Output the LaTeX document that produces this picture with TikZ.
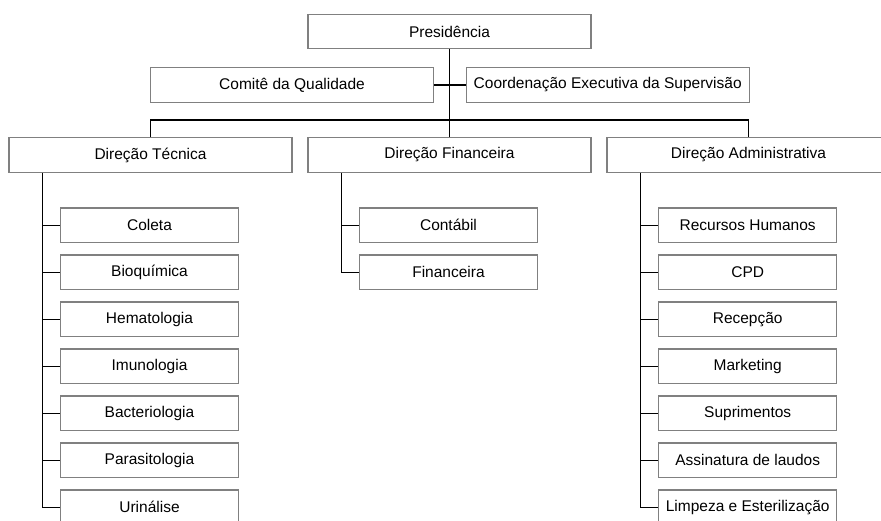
\documentclass[tikz,border=0pt]{standalone}
\usepackage{fontspec}
\setmainfont{Liberation Sans}
\begin{document}
\begin{tikzpicture}[x=1pt,y=-1pt,
  unit/.style={draw=black!50,line width=1.1pt,fill=white,rectangle,inner sep=0pt,
    minimum height=34.6pt,font=\fontsize{15.5}{18}\selectfont},
  bigunit/.style={unit,minimum width=283pt},
  subunit/.style={unit,minimum width=178pt},
  link/.style={draw=black,line width=1.3pt}]
\useasboundingbox (0,0) rectangle (881,521);
\clip (0,0) rectangle (881,521);

% top levels
\node[bigunit] (pres)   at (449.5,31.5) {Presidência};
\node[bigunit] (comite) at (292,85)     {Comitê da Qualidade};
\node[bigunit] (coord)  at (607.7,85)   {Coordenação Executiva da Supervisão};
\node[bigunit] (dt) at (150.5,155) {Direção Técnica};
\node[bigunit] (df) at (449.5,155) {Direção Financeira};
\node[bigunit] (da) at (748.5,155) {Direção Administrativa};

\coordinate (bus) at (449.5,120);
\draw[link] (pres.south) -- (df.north);
\draw[link] (comite.east) -- (coord.west);
\draw[link] (dt.north) |- (bus) -| (da.north);

% Direção Técnica
\foreach \name/\txt [count=\i from 0] in {t1/Coleta,t2/Bioquímica,t3/Hematologia,
    t4/Imunologia,t5/Bacteriologia,t6/Parasitologia,t7/Urinálise}
  \node[subunit] (\name) at (149.5,225.3+47*\i) {\txt};
\coordinate (tspine) at ([xshift=34pt]dt.south west);
\draw[link] (tspine) |- (t7.west);
\foreach \name in {t1,t2,t3,t4,t5,t6}
  \draw[link] (tspine |- \name.west) -- (\name.west);

% Direção Financeira
\foreach \name/\txt [count=\i from 0] in {f1/Contábil,f2/Financeira}
  \node[subunit] (\name) at (448.5,225.3+47*\i) {\txt};
\coordinate (fspine) at ([xshift=34pt]df.south west);
\draw[link] (fspine) |- (f2.west);
\draw[link] (fspine |- f1.west) -- (f1.west);

% Direção Administrativa
\foreach \name/\txt [count=\i from 0] in {a1/Recursos Humanos,a2/CPD,a3/Recepção,
    a4/Marketing,a5/Suprimentos,a6/Assinatura de laudos,a7/Limpeza e Esterilização}
  \node[subunit] (\name) at (747.7,225.3+47*\i) {\txt};
\coordinate (aspine) at ([xshift=34pt]da.south west);
\draw[link] (aspine) |- (a7.west);
\foreach \name in {a1,a2,a3,a4,a5,a6}
  \draw[link] (aspine |- \name.west) -- (\name.west);
\end{tikzpicture}
\end{document}
